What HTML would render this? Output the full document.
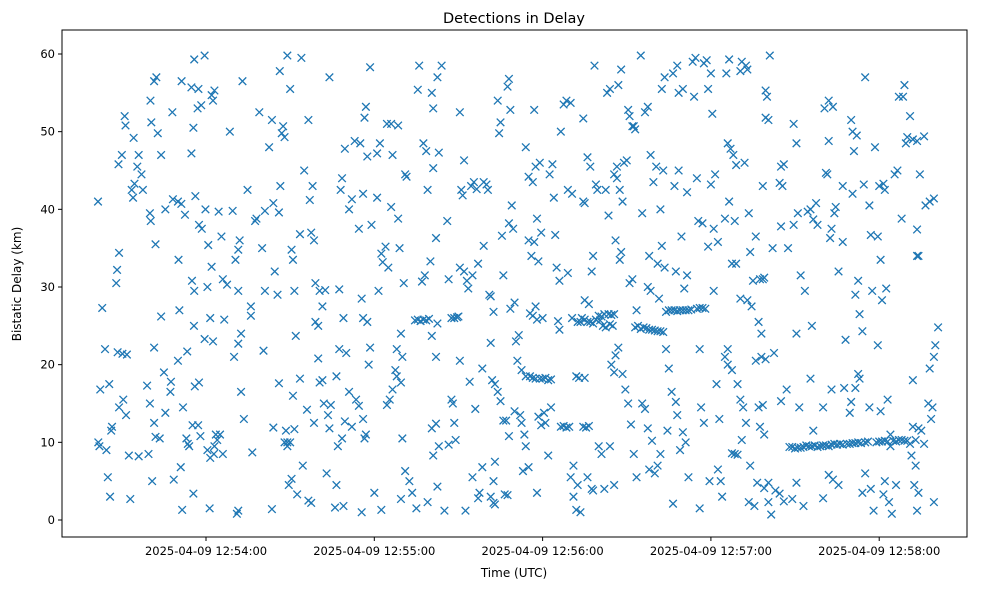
<!DOCTYPE html>
<html><head><meta charset="utf-8"><style>
body{margin:0;background:#fff;}
svg{display:block;font-family:"DejaVu Sans","Liberation Sans",sans-serif;}
</style></head><body>
<svg id="chart" width="989" height="590" viewBox="0 0 989 590" xmlns="http://www.w3.org/2000/svg">
<rect width="989" height="590" fill="#fff"/>
<text x="514" y="23" font-size="14.5" text-anchor="middle" fill="#000">Detections in Delay</text>
<g id="marks"></g>
<g id="axes"></g>
<rect x="62" y="30" width="905" height="507" fill="none" stroke="#000" stroke-width="1"/>
<text x="514" y="577" font-size="12" text-anchor="middle">Time (UTC)</text>
<text x="21" y="284" font-size="12" text-anchor="middle" transform="rotate(-90 21 284)">Bistatic Delay (km)</text>
</svg>
<script>
// seconds after 12:53:00 UTC, delay in km
const detections=[
[21.5,41],[21.6,10],[22,9.5],[22.3,16.8],[23,27.3],[24,22],[25.5,17.5],[24.5,9],[25,5.5],[25.8,3],[26.5,12],[26.2,11.5],
[28,30.5],[28.3,32.2],[29,34.4],[28.5,21.6],[30.2,21.4],[29,14.5],[30.5,15.5],[30,47],[28.8,45.8],[31,52],[31.3,50.8],[31.5,13.5],[31.8,21.3],
[32.5,8.3],[33,2.7],[33.5,42.5],[34.5,43.3],[34.2,49.2],[34,41.5],[35.5,45.5],[36,47],[37,44.5],[36,8.2],
[37.5,42.5],[39,17.3],[39.5,8.5],[40,15],[41.5,12.5],[40.3,38.5],[40,39.5],[40.5,51.2],[40.2,54],[41.5,56.5],[42.3,57],[42.8,49.8],[42,35.5],[41.5,22.2],[42,10.7],[40.8,5],[43.5,10.5],
[44,47],[45.5,40],[44,26.2],[45,19],[45.5,13.8],[47.5,17.8],[47.3,16.5],[48,52.5],[48.2,41.3],[48.5,5.2],[50,41],[50.2,33.5],[50,20.5],[50.5,27],[51.2,40.7],[51.3,56.5],[51,6.8],[51.5,1.3],[51.8,14.5],
[52.5,39.3],[53,10.5],[53.3,21.7],[53.5,9.8],[54,9.5],[54.8,55.7],[54.8,47.2],[55,30.8],[55.5,50.5],[55.8,29.5],[55.7,25],[56,17.2],[55.2,12.2],[55.5,3.4],[55.8,59.3],[56.2,41.7],[57,53],[57.3,55.5],
[57.5,38],[58.5,37.5],[59.5,59.8],[58.3,53.4],[59.8,40],[60.8,35.4],[59.5,23.3],[60.5,30],[61.5,26],[60.5,9],[61.5,8],[61.3,1.5],[57.5,17.7],[57.2,12.2],[58,10.8],[62,54.7],[63,55.3],[62.5,54],[62,32.6],[62.5,23],[62.8,8.5],[63,9.5],[63.5,11],
[64.5,39.7],[65.5,36.5],[66,31],[66.5,25.8],[66,8.5],[65,11],[64,10.3],[67.5,30.3],[69.5,39.8],[68.5,50],[70.5,33.5],[71.5,29.5],[70,21],[71,0.8],[71.5,1.2],[72.5,16.5],[71.5,22.7],[71.5,34.8],[72,36],[72.5,24],[73,56.5],[73.5,13],[74.8,42.5],
[76,27.5],[76,26.3],[76.5,8.7],[77.5,38.5],[78,38.8],[79,52.5],[80,35],[81,39.8],[81,29.5],[80.5,21.8],[82.5,48],[83.5,51.5],[84,40.8],[83.5,1.4],[84,11.9],[84.5,32],[85.5,29],[86,17.6],[86.3,57.8],[86.5,43],[86,39.6],
[87,49.8],[87.5,50.7],[89,59.8],[90,55.5],[88,49.3],[90.5,34.8],[91,33.5],[91.5,29.5],[92,23.7],[91,16],[88.5,11.5],[88,10],[89,10],[90,10],[89.5,4.5],[90.5,5.3],[89,9.5],[91.5,11.7],[93.5,36.8],[93.5,18.2],[94,59.5],[95,45],[94.5,7],[92.5,3.3],
[96.5,51.5],[97,41.2],[98,43],[97.5,37],[98.5,36],[99,30.5],[99,25.5],[100,25],[100.5,29.5],[101.5,27.5],[100,20.8],[96,14.2],[98.5,12.5],[96.5,2.5],[97.5,2.2],[100.5,17.7],[101.5,18],[102,15],[102.5,29.6],[103.5,13.5],[104,11.8],[104.5,14.8],[103,6],[106,1.6],[104,57],
[108,42.5],[108.5,44],[109.5,47.8],[113,48.8],[111,40],[112,41.3],[107.5,29.7],[109,26],[107.5,22],[106.5,18.5],[108.5,10.5],[107,9.5],[111,16.5],[110,21.5],[109.5,12.7],[112,12],[106.5,4.5],[109,1.8],[113.5,15.5],[114.5,14.7],[115,48.5],[117,53.2],[116.5,51.8],[117.5,46.8],[116,42],[114.5,37.5],[115.5,28.5],
[117.5,25.5],[116,26],[118,20],[116,13],[116.5,10.5],[117,11],[115.5,1],[118.5,58.3],[120,3.5],[119,38],[121,41.5],[121,47.2],[122,48.5],[122.5,34.3],[123,33.2],[124,35.2],[121.5,29.5],[118.5,22.2],[125,32.5],[122.5,1.3],[124.5,51],[126,51],[126.5,47],[126,40.3],[124.5,14.8],[125.5,15.5],[126.5,16.8],
[128.5,38.8],[129,35],[130.5,30.5],[129.5,24],[128,22],[130,21],[128,18.5],[127.5,19.3],[128.5,50.8],[131,44.5],[131.5,44.2],[129.5,17.7],[130,10.5],[131,6.3],[132.5,5],[133.5,3.5],[129.5,2.7],[135,1.5],[134.5,25.7],[135.5,25.8],[136.5,25.6],[137.5,25.8],[135.5,55.4],[136,58.5],[137.5,48.5],[138.5,47.5],[137,30.7],[138,31.5],
[138.5,25.7],[139.5,25.9],[140.5,55],[141,53],[142.5,57],[139,42.5],[141,45.3],[142,36.3],[140,33.3],[142.5,25.3],[140.5,23.7],[142,21],[140.5,11.8],[142,12.4],[143,9.5],[141,8.3],[139,2.3],[142.5,4.3],[145,1.2],[144,58.5],[143,47.3],[146,38.5],[146.5,31],[147.5,26],[148.5,26],[149.5,26.1],[150,26.2],
[150.5,52.5],[151,42.5],[151.5,41.8],[150.5,32.5],[152,32],[150.5,20.5],[147.5,15.5],[148,15],[148.5,12.5],[149,10.3],[146.5,9.7],[152,46.3],[153,30.8],[153.5,29.8],[155,31.5],[154.5,43],[155.5,43.5],[156.5,42.6],[154,17.8],[156,14.3],[155,5.5],[152.5,1.2],[157,2.8],[157.5,3.5],[158.5,6.8],[157,33],[159,35.3],[158.5,19.5],[159,43.5],
[160,43.2],[160.5,42.5],[161,29],[161.5,28.8],[162.5,26.8],[161.5,22.8],[162,18],[163,17.5],[164,16.5],[165,15.3],[161.5,3],[162.5,2.2],[163,2],[162.5,5],[163,7.5],[164,54],[164.5,49.8],[165,51.2],[165.5,36.6],[166,31.5],[166,12.8],[167,12.8],[166.5,3.3],[168,10.8],[167.5,3.2],[167.5,55.8],[168,56.8],[168.5,52.8],[169,40.5],[169.5,37.5],[170,28],[168.5,27.2],[168,38.2],[171,20.5],[170.5,23],[171.5,23.8],[170,14],
[172,13.5],[172.5,12.5],[173.5,11],[174,9.5],[173,6.3],[175,6.8],[174,48],[175,44.2],[176.5,43.5],[175,36],[176,34],[177,35.8],[172.5,19.3],[174,18.5],[175.5,18.5],[176.5,18.3],[177.5,18.2],[177,52.8],[177.5,45.5],[179,46],[178,38.8],[179.5,37],[178.5,33.3],[177.5,27.5],[175.5,26.6],[178,25.8],[176.5,26.3],[180,26],[178.5,13.3],[179.5,12.2],[180.5,13.8],[178,3.5],[181,12.5],[182,8.3],[183,14.5],
[179,18.2],[180,18.2],[181,18.3],[182,18],[183,18.1],[182.5,44.5],[183.5,45.8],[184,41.5],[184.5,36.7],[185,32.5],[185.5,25.6],[186,24.5],[186.5,12],[187.5,12.1],[188.5,11.9],[189.5,12],[186.5,50],[187.5,53.5],[188.5,54],[190,53.7],[189,42.5],[190.5,42],[186,30.8],[189,31.8],[190.5,26],[190,5.5],[191,3],[192,1.3],[193.5,1],[191,7],[192.5,4.5],[192,18.5],[193,18.3],[192.5,25.5],[193.5,25.5],
[194,26],[195,25.8],[196,25.5],[197,25.5],[198,25.3],[199,25.8],[194.5,41],[195,40.8],[194.5,51.7],[196,46.7],[197,45.5],[195,28.3],[196.5,27.8],[197.5,32],[198,34],[194.5,12],[195.5,11.9],[196.5,12.1],[196,5.5],[197.5,4],[198,3.8],[198.5,58.5],[199,43.2],[199.5,42.5],[200,26.3],[201,26.2],[202,26.5],[200.5,25.7],[201.5,25],[202.5,24.8],[195,18.3],[200,9.5],[201,8.5],[202,4],[202.5,42.5],[203,55],[204,55.5],[203.5,39.2],
[203.5,26.5],[204.5,26.4],[205.5,26.5],[204,25.2],[205,25],[204.5,20],[205.5,19],[206,21.2],[207,22.2],[204,9.5],[205.5,4.5],[206,36],[207.5,33.5],[208,34.5],[205.5,44.5],[206.5,44],[206.5,45.5],[207.5,42.5],[208.5,41],[207,56],[208,58],[209,46],[210,46.3],[210.5,52.8],[211,52],[212,50.7],[212.5,50.7],[213,50.3],[211,30.5],[212,31],[213.5,27],[208.5,18.8],[209.5,16.8],[210.5,15],[211.5,12.3],[212.5,8.5],[213.5,5.5],[213,24.8],[214,25],[215,24.6],[215,59.8],
[216,24.8],[217,24.7],[218,24.5],[219,24.5],[220,24.4],[221,24.3],[216.5,52.5],[217.5,53.2],[218.5,47],[219.5,43.5],[220.5,45.5],[215.5,39.5],[218,34],[221,33],[217.5,30],[218.5,29.5],[221.5,28.5],[215.5,15],[216.5,14.3],[217.5,11.8],[219,10.2],[218,6.5],[220,6],[221,7],[222,8.5],[222.5,55.5],[223.5,57],[223,45],[222,40],[222.5,35.3],[223.5,32.5],[224,26.8],[225,27],
[226,27],[227,27],[228,26.9],[229,27],[230,27],[222,24.3],[223,24.2],[224,22],[225,19.5],[224.5,11.5],[226.5,2.1],[226.5,57.5],[228,58.5],[228.5,55],[230,55.5],[228.5,45],[227,43],[231.5,42.2],[229.5,36.5],[227.5,32],[231.5,31.5],[230.5,29.8],[231,27],[232,27],[233,27.1],[226,16.5],[227.5,15.2],[228,13.5],[230,11.3],[231,10],[229,9],[232,5.5],[233.5,59],[234.5,59.5],[234,54.5],
[235,27.2],[236,27.3],[237,27.3],[238,27.2],[235.5,38.5],[237,38.2],[235,44],[239,35.2],[236,22],[236.5,14.5],[237.5,12.5],[236,1.5],[239.5,5],[237.5,58.8],[238.5,59.2],[240,57.5],[239,55.5],[240.5,52.3],[241.5,44.5],[240,43.2],[241,37.5],[242.5,35.8],[241,29.5],[242,17.5],[243,13],[242.5,6.5],[243.5,5],[244,3],[245,21],[246,22],[246.5,59.3],[245.5,57.5],
[246,48.5],[247,47.8],[248,47],[249,45.7],[245,38.8],[246.5,41],[248.5,38.5],[247.5,33],[249,33],[250.5,28.5],[246,20],[247.5,19.3],[247.5,8.6],[248.5,8.5],[249.5,8.4],[249.5,17.5],[250.5,15.5],[251.5,14.5],[251,10.3],[252.5,58.5],[251,59],[250.5,57.8],[253,58],[252,46],[253.5,39.5],[254,34.5],[253,28.3],[254.5,27.5],[255,30.8],[252.5,12.5],[254,7],[253.5,2.3],[255.5,1.8],[256.5,4.8],[256,20.5],
[257.5,31],[258.5,31],[259,31.2],[258,21],[259.5,20.7],[257,14.5],[258.5,14.8],[260,54.5],[261,59.8],[259.5,55.3],[259.5,51.8],[260.5,51.5],[258.5,43],[256,36.5],[257,25.5],[258,24],[257.5,12],[259,11],[260.5,4.8],[259,4.1],[261.5,0.7],[260.5,2.3],[265,45.5],[266,45.8],[265.5,43],[264.5,43.4],[265,37.8],[262,35],[262.5,21.5],[265,15.3],[263,3.8],[264.5,3.4],[266,2.4],[267,16.8],[268,9.4],[269,9.4],
[270,9.2],[271,9.3],[272,9.3],[273,9.4],[274,9.6],[269.5,51],[270.5,48.5],[271,39.5],[269.5,38],[267.5,35],[272,31.5],[273.5,29.5],[270.5,24],[271.5,14.5],[275,9.5],[270.5,4.8],[269,2.7],[273,1.8],[274.5,39.7],[275.5,40],[276.5,38.7],[276,25],[275.5,18.2],[276.5,11.5],[276,9.5],[277,9.6],[278,9.4],
[279,9.5],[280,9.6],[281,9.6],[282,9.5],[283,9.7],[280.5,53],[282,54],[283.5,53.2],[282,48.8],[281,44.7],[281.5,44.5],[277.5,40.8],[278,38],[282.5,36.3],[283,37.5],[284,39.5],[284.5,40.3],[285.5,32],[280,14.5],[283,16.8],[284,9.8],[285,9.7],[283.5,5.2],[282,5.8],[285.5,4.5],[280,2.8],[287,43],[287,35.8],[288,23.2],[287.5,17],[286,9.8],[287,9.7],[288.5,9.8],
[289.5,9.8],[290.5,9.9],[291.5,9.9],[292.5,10],[293.5,9.9],[290,51.5],[290.5,50],[291,47.5],[292,49.5],[290.5,42],[291.5,29],[292.5,30.8],[293,26.5],[294,24.3],[292.5,18.8],[293,18.2],[291.5,17],[290,15.2],[289.5,13.8],[295,57],[294.5,43.2],[295,10],[296,10.1],[294,3.5],[295,6],[296.5,14.5],[297,4],[298,1.2],[297.5,29.5],[297,36.7],[296.5,40.5],[298.5,48],
[299,10],[300,10.1],[301,10.1],[302,10.2],[303,10.1],[299.5,36.5],[300,43],[302,42.5],[301.5,43.3],[300.5,33.5],[302.5,29.8],[301,28.3],[299.5,22.5],[303,15.5],[300.5,14],[302,5],[301.5,3.3],[303.5,2.3],[304.5,0.8],[306,4.5],[304,11],[305,10.2],[306,10.1],[305.5,44.5],[306.5,45],[308,38.8],[307,54.5],[308.5,54.5],[309,56],[310,49.3],[309.5,48.5],[311,52],[314,34],[313.5,37.4],
[307,10.3],[308,10.3],[309,10.2],[310,10.2],[311,9.8],[304,9.5],[312,12],[313,10.3],[314,11.8],[312,49],[313.5,48.8],[314.5,44.5],[313.5,34],[312,18],[311.5,8.3],[313,7],[312.5,4.5],[314,3.5],[313.5,1.2],[316,49.4],[316.5,40.5],[318,41],[319.5,41.4],[318,19.5],[317.5,15],[319,14.5],[318.5,13],[319.5,21],[320,22.5],[321,24.8],[319.5,2.3],[315,11.5],[316,9.8]
];
const detectionTimes=detections.map(p=>p[0]);
const detectionDelays=detections.map(p=>p[1]);
const yTicks=[0,10,20,30,40,50,60];
const xTickSeconds=[60,120,180,240,300];
const xTickLabels=["2025-04-09 12:54:00","2025-04-09 12:55:00","2025-04-09 12:56:00","2025-04-09 12:57:00","2025-04-09 12:58:00"];

const X0=62,X1=967,Y0=30,Y1=537;
const xDom=[8.66,331.3], yDom=[-2.19,63.09];
function xScale(t){return X0+(t-xDom[0])/(xDom[1]-xDom[0])*(X1-X0);}
function yScale(d){return Y1-(d-yDom[0])/(yDom[1]-yDom[0])*(Y1-Y0);}
const NS="http://www.w3.org/2000/svg";
const marks=document.getElementById('marks');
for(let i=0;i<detectionTimes.length;i++){
  const cx=xScale(detectionTimes[i]),cy=yScale(detectionDelays[i]),r=3.8;
  const p=document.createElementNS(NS,'path');
  p.setAttribute('d',`M${cx-r},${cy-r}L${cx+r},${cy+r}M${cx-r},${cy+r}L${cx+r},${cy-r}`);
  p.setAttribute('stroke','#1f77b4');p.setAttribute('stroke-width','1.3');p.setAttribute('fill','none');
  
  
  marks.appendChild(p);
}
const axes=document.getElementById('axes');
yTicks.forEach(v=>{
  const y=yScale(v);
  const l=document.createElementNS(NS,'line');
  l.setAttribute('x1',X0-4);l.setAttribute('x2',X0);l.setAttribute('y1',y);l.setAttribute('y2',y);l.setAttribute('stroke','#000');
  
  
  axes.appendChild(l);
  const t=document.createElementNS(NS,'text');
  t.setAttribute('x',X0-7);t.setAttribute('y',y+4);t.setAttribute('font-size','11.5');t.setAttribute('text-anchor','end');
  t.textContent=v;
  
  
  axes.appendChild(t);
});
xTickSeconds.forEach((s,i)=>{
  const x=xScale(s);
  const l=document.createElementNS(NS,'line');
  l.setAttribute('x1',x);l.setAttribute('x2',x);l.setAttribute('y1',Y1);l.setAttribute('y2',Y1+4);l.setAttribute('stroke','#000');
  
  
  axes.appendChild(l);
  const t=document.createElementNS(NS,'text');
  t.setAttribute('x',x);t.setAttribute('y',Y1+18);t.setAttribute('font-size','11.5');t.setAttribute('text-anchor','middle');
  t.textContent=xTickLabels[i];
  
  
  axes.appendChild(t);
});
</script>
</body></html>
